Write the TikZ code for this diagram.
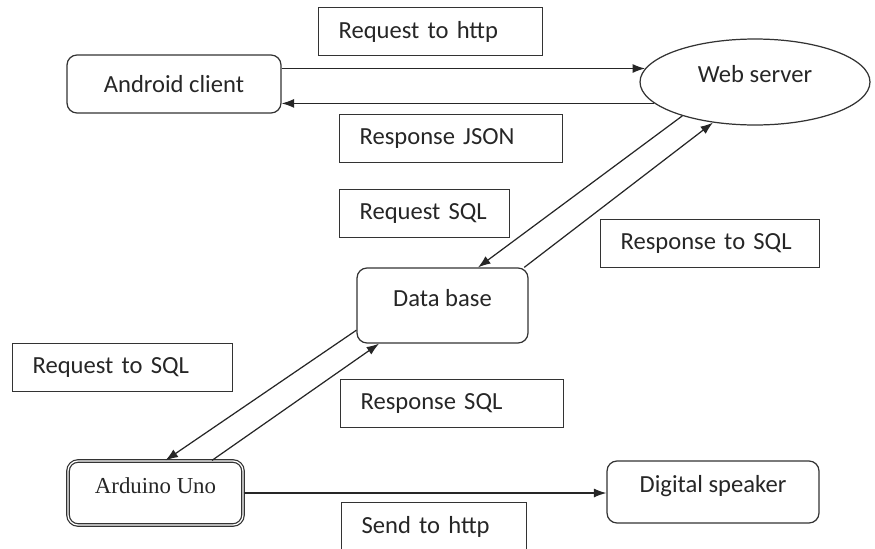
\documentclass[tikz,border=0pt]{standalone}
\usepackage{fontspec}
\setmainfont{Carlito}
\newfontfamily\timesfont{Liberation Serif}
\usetikzlibrary{arrows.meta}
\usetikzlibrary{shapes.geometric}

\begin{document}
\begin{tikzpicture}[x=0.02cm, y=-0.02cm,
  every node/.style={font=\fontsize{14}{16}\selectfont, text=black!85},
  unit/.style={draw=black!80, line width=0.7pt, rounded corners=0.2cm, inner sep=0pt},
  hightext/.style={text height=0.75em, text depth=0.65em},
  lbl/.style={draw=black!80, line width=0.7pt, anchor=north west, inner xsep=0.4cm, inner ysep=0pt, minimum height=0.96cm, align=left},
  arr/.style={line width=0.7pt, draw=black!85, -{Latex[length=0.25cm, width=0.18cm]}}]

\useasboundingbox (0,0) rectangle (875,548);

%%% blocs

% android
\node[unit, minimum width=4.28cm, minimum height=1.16cm] (android) at (174,84) {Android client};

% web server
\node[ellipse, draw=black!80, line width=0.7pt, inner sep=0pt, minimum width=4.6cm, minimum height=1.72cm, hightext] (web) at (755,82) {Web server};

% data base
\node[unit, hightext, minimum width=3.42cm, minimum height=1.5cm] (db) at (442.5,305.5) {Data base};

% arduino
\node[unit, double=white, double distance=0.7pt, hightext, minimum width=3.5cm, minimum height=1.28cm, font=\timesfont\fontsize{13}{15}\selectfont] (ard) at (155.5,493) {Arduino Uno};

% speaker
\node[unit, hightext, minimum width=4.24cm, minimum height=1.24cm] (spk) at (713,492) {Digital speaker};

%%% etiquettes

\node[lbl, text width=3.68cm] (reqhttp) at (318,7) {Request to http};
\node[lbl, text width=3.66cm] (respjson) at (339,114) {Response JSON};
\node[lbl, text width=2.6cm] (reqsql) at (339,189) {Request SQL};
\node[lbl, text width=3.58cm] (resptosql) at (600,219) {Response to SQL};
\node[lbl, text width=3.6cm] (reqtosql) at (12,343) {Request to SQL};
\node[lbl, text width=3.66cm] (respsql) at (340,379) {Response SQL};
\node[lbl, text width=2.9cm] (sendhttp) at (341,502) {Send to http};

%%% liens

\draw[arr] (android.east |- web.173) -- (web.173);
\draw[arr] (web.192) -- (android.east |- web.192);
\draw[arr] (web.205) -- (db.47);
\draw[arr] (db.25) -- (web.224);
\draw[arr] (db.196) -- (ard.73);
\draw[arr] (ard.30) -- (db.211);
\draw[arr] (ard.east) -- (ard.east -| spk.west);
\end{tikzpicture}
\end{document}
